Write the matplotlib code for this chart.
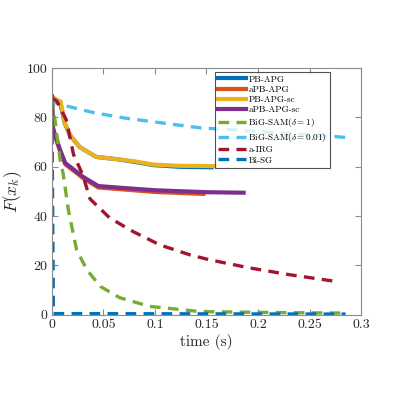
import numpy as np
import matplotlib.pyplot as plt

plt.rcParams['font.family'] = ['cmr10', 'DejaVu Serif']
plt.rcParams['mathtext.fontset'] = 'cm'
plt.rcParams['axes.formatter.use_mathtext'] = True

# ---- data ----
t_pb = [0, 0.003, 0.008, 0.0126, 0.0175, 0.027, 0.043, 0.063, 0.08, 0.098, 0.124, 0.155]
f_pb = [88.5, 87.5, 86.2, 77.5, 72.8, 68.0, 64.0, 63.1, 62.0, 60.7, 60.0, 59.8]

t_apb = [0, 0.001, 0.003, 0.008, 0.013, 0.024, 0.03, 0.045, 0.07, 0.1, 0.147]
f_apb = [88.5, 75.0, 72.5, 66.3, 61.0, 57.5, 55.5, 51.6, 50.8, 49.8, 49.0]

t_pbsc = [0, 0.003, 0.0085, 0.0126, 0.0175, 0.027, 0.043, 0.063, 0.08, 0.098, 0.124, 0.158]
f_pbsc = [88.5, 87.5, 86.4, 77.7, 72.9, 68.0, 64.0, 63.1, 62.2, 60.9, 60.4, 60.3]

t_apbsc = [0, 0.001, 0.003, 0.008, 0.013, 0.024, 0.03, 0.045, 0.07, 0.1, 0.15, 0.186]
f_apbsc = [88.5, 76.0, 73.0, 66.8, 61.5, 58.0, 56.0, 52.2, 51.4, 50.5, 49.7, 49.5]

t_bs1 = [0, 0.003, 0.008, 0.011, 0.016, 0.024, 0.034, 0.047, 0.066, 0.095, 0.144, 0.2, 0.25, 0.285]
f_bs1 = [88.0, 79.0, 63.0, 57.0, 42.5, 26.3, 18.2, 11.5, 6.9, 3.4, 1.3, 1.0, 0.8, 0.7]

t_bs2 = [0, 0.003, 0.0175, 0.04, 0.07, 0.121, 0.144, 0.2, 0.276, 0.288]
f_bs2 = [88.0, 86.0, 84.3, 82.0, 79.8, 77.0, 75.8, 74.3, 72.2, 71.8]

t_irg = [0, 0.005, 0.014, 0.021, 0.03, 0.037, 0.056, 0.079, 0.105, 0.134, 0.153, 0.192, 0.23, 0.276]
f_irg = [88.0, 86.5, 79.0, 65.0, 56.7, 47.0, 39.3, 33.7, 28.3, 24.3, 22.3, 19.0, 16.3, 13.5]

t_bisg = [0, 0.0015, 0.285]
f_bisg = [88.0, 0.5, 0.3]

fig = plt.figure(figsize=(3.99, 3.96), dpi=100)
ax = fig.add_axes([0.130, 0.205, 0.775, 0.623])

lw_s = 3.0
lw_d = 2.4
dash = (3.2, 2.2)

ax.plot(t_pb, f_pb, color='#0072BD', lw=lw_s, label='PB-APG')
ax.plot(t_apb, f_apb, color='#D95319', lw=lw_s, label='aPB-APG')
ax.plot(t_pbsc, f_pbsc, color='#EDB120', lw=lw_s, label='PB-APG-sc')
ax.plot(t_apbsc, f_apbsc, color='#7E2F8E', lw=lw_s, label='aPB-APG-sc')
ax.plot(t_bs1, f_bs1, color='#77AC30', lw=lw_d, dashes=dash, label=r'BiG-SAM($\delta=1$)')
ax.plot(t_bs2, f_bs2, color='#4DBEEE', lw=lw_d, dashes=dash, label=r'BiG-SAM($\delta=0.01$)')
ax.plot(t_irg, f_irg, color='#A2142F', lw=lw_d, dashes=dash, label='a-IRG')
ax.plot(t_bisg, f_bisg, color='#0072BD', lw=lw_d, dashes=dash, label='Bi-SG')

ax.set_xlim(0, 0.3)
ax.set_ylim(0, 100)
ax.set_xticks([0, 0.05, 0.1, 0.15, 0.2, 0.25, 0.3])
ax.set_xticklabels(['0', '0.05', '0.1', '0.15', '0.2', '0.25', '0.3'])
ax.set_yticks([0, 20, 40, 60, 80, 100])
ax.set_yticklabels(['0', '20', '40', '60', '80', '100'])

for s in ax.spines.values():
    s.set_color('#8c8c8c')
    s.set_linewidth(0.8)
ax.tick_params(direction='in', top=True, right=True, length=4, width=0.8,
               colors='#8c8c8c', labelcolor='#262626', labelsize=10, pad=3)

ax.set_xlabel('time (s)', fontsize=11, color='#262626', labelpad=2)
ax.set_ylabel(r'$F(x_k)$', fontsize=12.5, color='#262626', labelpad=2)

leg = ax.legend(loc='upper right', bbox_to_anchor=(0.9, 0.984), fontsize=6.6,
                frameon=True, fancybox=False, edgecolor='#262626',
                handlelength=3.0, labelspacing=0.2, borderpad=0.35,
                handletextpad=0.3, borderaxespad=0)
leg.get_frame().set_linewidth(0.8)

plt.savefig('out.png', dpi=100)
